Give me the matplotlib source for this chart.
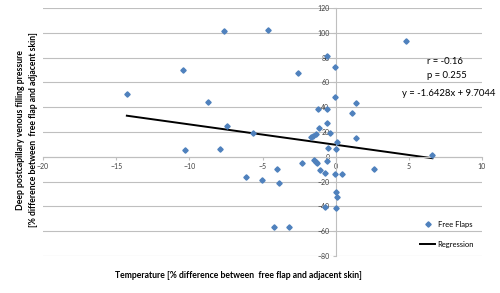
import numpy as np
import matplotlib
matplotlib.use("Agg")
import matplotlib.pyplot as plt
from matplotlib.lines import Line2D

plt.rcParams['font.family'] = ['Lato', 'DejaVu Sans']

# temperature difference (%) vs deep postcapillary venous filling pressure difference (%)
temp_diff = [-14.27, -10.43, -7.63, -4.63, -8.73, -7.40, -10.32, -7.91, -2.58, 4.83,
             -0.57, -0.07, -0.07, 1.41, 1.12, -1.21, -0.57, -0.57, -1.16, -1.37,
             -1.55, -1.66, -0.36, 1.41, 0.11, 0.05, -0.53, -2.28, -1.48, -1.37,
             -1.28, -0.57, -1.09, -0.71, -0.07, 0.43, 2.60, -3.99, -6.10, -5.03,
             -3.87, 0.05, 0.11, 0.05, -0.71, -4.24, -3.16, -5.65, 6.61]
pressure_diff = [50.7, 70.0, 101.8, 102.6, 44.4, 24.5, 5.1, 6.2, 67.3, 93.5,
                 81.4, 72.5, 48.2, 43.4, 35.0, 38.5, 38.5, 27.2, 23.5, 18.3,
                 16.4, 15.6, 18.8, 15.1, 11.6, 6.2, 7.5, -4.8, -2.4, -3.8,
                 -5.4, -3.0, -10.5, -12.7, -14.0, -13.5, -10.2, -10.0, -15.9, -18.6,
                 -21.3, -28.0, -32.3, -41.0, -40.2, -56.6, -56.6, 19.2, 1.4]

# regression as reported on the chart
slope = -1.6428
intercept = 9.7044
r_text = "r = -0.16"
p_text = "p = 0.255"
eq_text = "y = -1.6428x + 9.7044"

x_ticks = [-20, -15, -10, -5, 0, 5, 10]
y_ticks = [-80, -60, -40, -20, 0, 20, 40, 60, 80, 100, 120]

fig = plt.figure(figsize=(5.0, 2.93), dpi=100)
ax = fig.add_axes([43/500, 1-256/293, (482-43)/500, (256-8)/293])

grid_col = '#BFBFBF'
blue = '#4F81BD'

ax.set_xlim(-20, 10)
ax.set_ylim(-80, 120)
ax.set_xticks(x_ticks)
ax.set_yticks(y_ticks)
ax.yaxis.grid(True, color=grid_col, linewidth=0.8)
ax.set_axisbelow(True)

for side in ['top', 'right']:
    ax.spines[side].set_visible(False)
ax.spines['left'].set_position(('data', 0))
ax.spines['bottom'].set_position(('data', 0))
for side in ['left', 'bottom']:
    ax.spines[side].set_color(grid_col)
    ax.spines[side].set_linewidth(0.8)

ax.tick_params(axis='both', labelsize=5, colors=grid_col, labelcolor='#404040',
               length=2.5, width=0.8, direction='out', pad=2)

ax.plot(temp_diff, pressure_diff, linestyle='none', marker='D', markersize=2.7,
        color=blue, zorder=3, clip_on=False)

xs = np.array([min(temp_diff), max(temp_diff)])
ax.plot(xs, slope * xs + intercept, color='black', linewidth=1.4, zorder=2)

# statistics
fig.text(427/500, 1-62/293, r_text, fontsize=6.8, va='center', ha='left')
fig.text(427/500, 1-76/293, p_text, fontsize=6.8, va='center', ha='left')
fig.text(402/500, 1-94/293, eq_text, fontsize=6.8, va='center', ha='left')

# legend
handles = [Line2D([], [], linestyle='none', marker='D', markersize=2.7, color=blue),
           Line2D([], [], color='black', linewidth=1.4)]
ax.legend(handles, ['Free Flaps', 'Regression'], loc='upper left',
          bbox_to_anchor=(420/500, 1-221/293), bbox_transform=fig.transFigure,
          frameon=False, fontsize=5.5, handlelength=2.0, handletextpad=0.3,
          labelspacing=1.7, borderaxespad=0, borderpad=0)

# axis titles
fig.text(238/500, 1-276/293, 'Temperature [% difference between  free flap and adjacent skin]',
         fontsize=6.2, fontweight='bold', ha='center', va='center')
fig.text(27/500, 1-130/293,
         'Deep postcapillary venous filling pressure\n[% difference between  free flap and adjacent skin]',
         fontsize=6.2, fontweight='bold', ha='center', va='center', rotation=90,
         multialignment='center', linespacing=1.5)

fig.savefig('out.png', dpi=100)
